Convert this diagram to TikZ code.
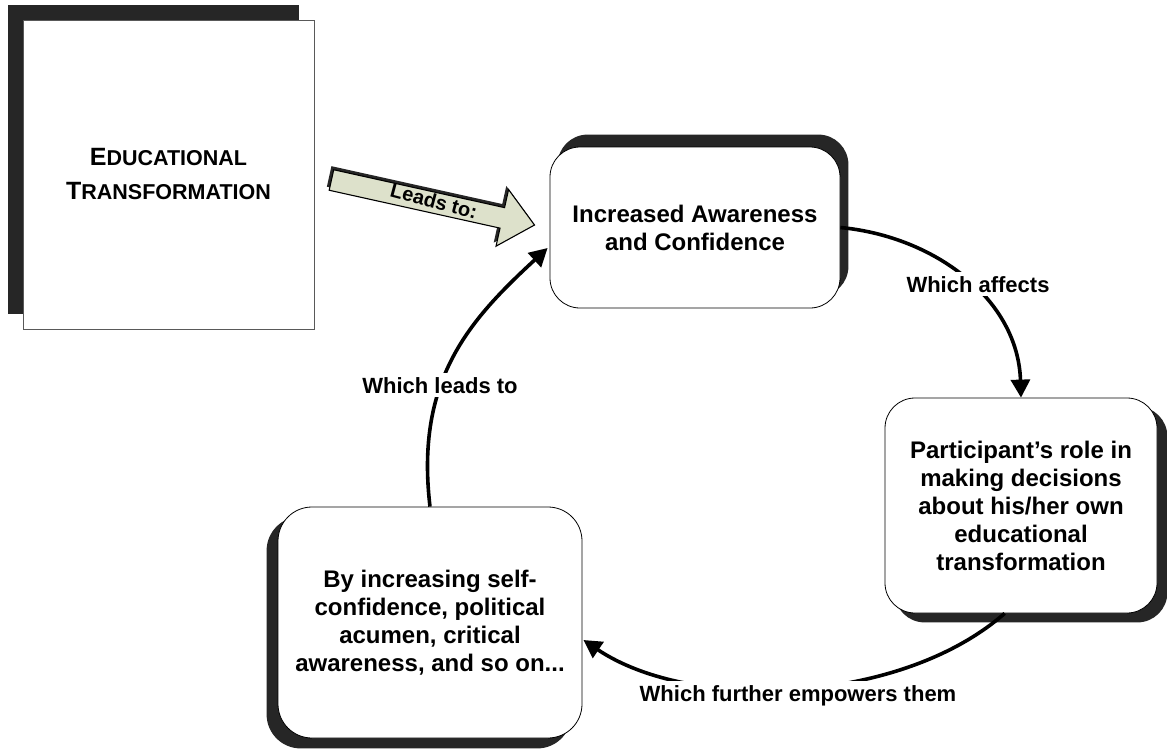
\documentclass[tikz,border=0pt]{standalone}
\usepackage{fontspec}
\setmainfont{Liberation Sans}
\usetikzlibrary{arrows.meta,calc,backgrounds}
\definecolor{shadowgray}{RGB}{38,38,38}
\definecolor{sage}{RGB}{221,225,203}
\begin{document}
\begin{tikzpicture}[x=1pt,y=-1pt,
  box/.style={draw=black, line width=0.8pt, fill=white, rounded corners=30pt, inner sep=0pt, align=center, font=\fontsize{24}{28}\selectfont\bfseries},
  conn/.style={line width=3.6pt, -{Triangle[length=18pt,width=19pt]}},
  lbl/.style={fill=white, inner xsep=3pt, inner ysep=4pt, font=\fontsize{22}{26}\selectfont\bfseries, anchor=base}]
\useasboundingbox (0,0) rectangle (1167,750);

% boxes
\node[draw=black!65, line width=0.9pt, fill=white, minimum width=291pt, minimum height=309pt, inner sep=0pt, align=center, font=\fontsize{25}{34}\selectfont\bfseries] (b1) at (168.5,174.5)
  {E{\fontsize{21.5}{34}\selectfont DUCATIONAL}\\T{\fontsize{21.5}{34}\selectfont RANSFORMATION}};
\node[box, minimum width=290pt, minimum height=161pt] (b2) at (695,227.5) {Increased Awareness\\and Confidence};
\node[box, minimum width=272pt, minimum height=215pt] (b3) at (1021,505.5) {Participant’s role in\\making decisions\\about his/her own\\educational\\transformation};
\node[box, rounded corners=34pt, minimum width=304pt, minimum height=231pt] (b4) at (430,622.5) {By increasing self-\\confidence, political\\acumen, critical\\awareness, and so on...};

% shadows and background
\begin{scope}[on background layer]
  \fill[white] (0,0) rectangle (1167,750);
  \fill[shadowgray] ($(b1.north west)+(-15,-15)$) rectangle ($(b1.south east)+(-15,-15)$);
  \fill[shadowgray, rounded corners=30pt] ($(b2.north west)+(8,-12)$) rectangle ($(b2.south east)+(8,-12)$);
  \fill[shadowgray, rounded corners=30pt] ($(b3.north west)+(10,9)$) rectangle ($(b3.south east)+(10,9)$);
  \fill[shadowgray, rounded corners=34pt] ($(b4.north west)+(-11,10)$) rectangle ($(b4.south east)+(-11,10)$);
\end{scope}

% block arrow "Leads to:"
\coordinate (lt) at ($(b1.east)+(17,5.5)$);
\begin{scope}[shift={(lt)}, rotate=-12.5]
  \fill[shadowgray] (-3,-13.5) -- (172,-13.5) -- (172,-32) -- (205,-3) -- (172,26) -- (172,7.5) -- (-3,7.5) -- cycle;
  \filldraw[fill=sage, draw=black, line width=1.1pt] (0,-10.5) -- (175,-10.5) -- (175,-29) -- (208,0) -- (175,29) -- (175,10.5) -- (0,10.5) -- cycle;
\end{scope}
\node[rotate=-15, inner sep=0pt, font=\fontsize{20}{24}\selectfont\bfseries] (lead) at (434,201) {Leads to:};

% connectors
\coordinate (s3) at ($(b3.south west)!0.44!(b3.south east)$);
\coordinate (e4) at ($(b4.east)+(1,17.5)$);
\coordinate (e2) at ($(b2.west)+(-2,20.5)$);
\draw[conn] (b2.east) .. controls ($(b2.east)+(95,9)$) and ($(b3.north)+(-3,-98)$) .. (b3.north);
\draw[conn] (s3) .. controls ($(s3)+(-105,92)$) and ($(e4)+(107,72)$) .. (e4);
\draw[conn] (b4.north) .. controls ($(b4.north)+(-15,-127)$) and ($(e2)+(-78,72)$) .. (e2);

% labels
\node[lbl] (l1) at (978,292) {Which affects};
\node[lbl] (l2) at (440,393) {Which leads to};
\node[lbl] (l3) at (798,701) {Which further empowers them};
\end{tikzpicture}
\end{document}
